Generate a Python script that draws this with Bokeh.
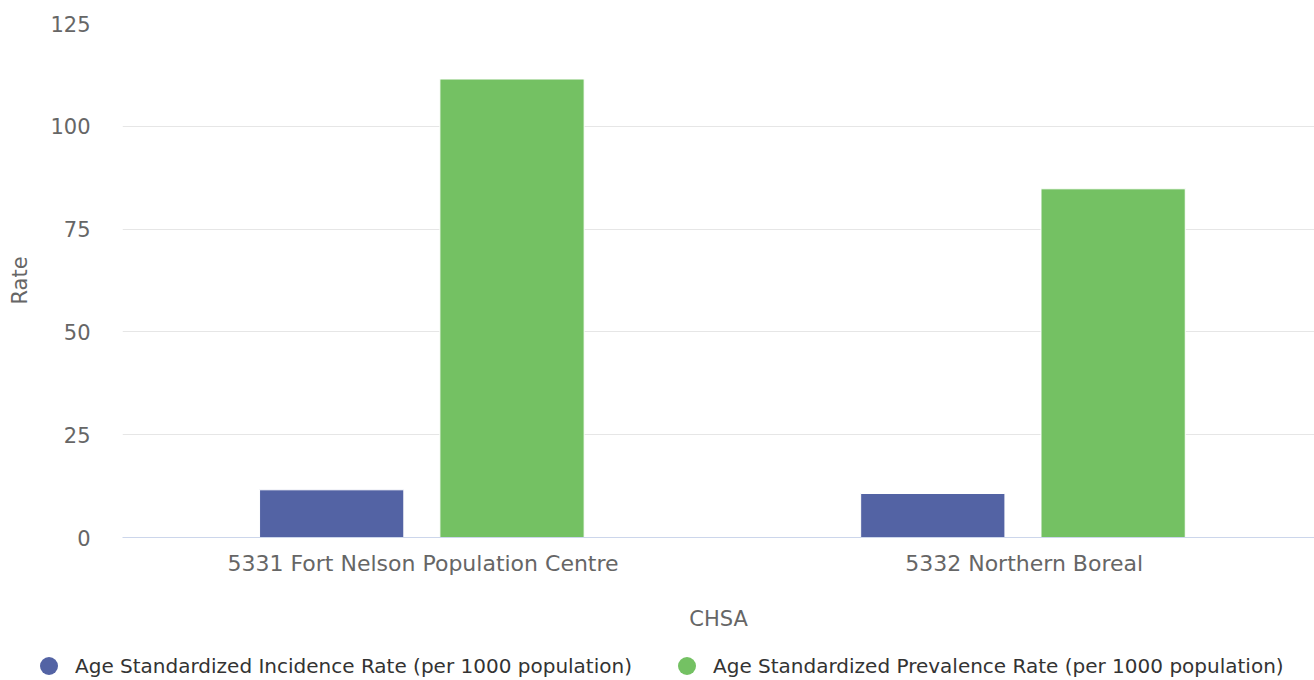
from bokeh.plotting import figure
from bokeh.layouts import column
from bokeh.models import ColumnDataSource, Range1d, SingleIntervalTicker, FixedTicker, Div
from bokeh.embed import file_html
from bokeh.resources import INLINE

categories = ["5331 Fort Nelson Population Centre", "5332 Northern Boreal"]
incidence = [11.6, 10.7]
prevalence = [111.5, 84.8]
series_names = ["Age Standardized Incidence Rate (per 1000 population)",
                "Age Standardized Prevalence Rate (per 1000 population)"]
colors = ["#5363a4", "#74c163"]

FONT = "DejaVu Sans"

# category slots: one unit per category, centred at i + 0.5
slot = [i + 0.5 for i in range(len(categories))]
src = ColumnDataSource(dict(
    x_inc=[s - 0.152 for s in slot], x_prev=[s + 0.148 for s in slot],
    inc=incidence, prev=prevalence))

# plot area continues slightly beyond the right edge of the picture
p = figure(x_range=Range1d(0, 1.983), y_range=Range1d(0, 125),
           width=1314, height=636, output_backend="svg", toolbar_location=None,
           min_border_left=122, min_border_right=0, min_border_top=23, min_border_bottom=99)
p.outline_line_color = None
p.background_fill_color = "white"

p.vbar(x="x_inc", top="inc", width=0.24, source=src,
       fill_color=colors[0], line_color="white", line_width=1)
p.vbar(x="x_prev", top="prev", width=0.24, source=src,
       fill_color=colors[1], line_color="white", line_width=1)

# axes
p.xgrid.grid_line_color = None
p.ygrid.grid_line_color = "#e6e6e6"
p.ygrid.grid_line_width = 1

p.yaxis.ticker = SingleIntervalTicker(interval=25)
p.yaxis.axis_line_color = None
p.yaxis.major_tick_line_color = None
p.yaxis.minor_tick_line_color = None
p.yaxis.major_tick_out = 0
p.yaxis.major_tick_in = 0
p.yaxis.major_label_standoff = 28
p.yaxis.major_label_text_font = FONT
p.yaxis.major_label_text_font_size = "21px"
p.yaxis.major_label_text_color = "#666666"
p.yaxis.axis_label = "Rate"
p.yaxis.axis_label_text_font = FONT
p.yaxis.axis_label_text_font_size = "21px"
p.yaxis.axis_label_text_font_style = "normal"
p.yaxis.axis_label_text_color = "#666666"
p.yaxis.axis_label_standoff = 15

p.xaxis.ticker = FixedTicker(ticks=slot, minor_ticks=[])
p.xaxis.major_label_overrides = {s: c for s, c in zip(slot, categories)}
p.xaxis.axis_line_color = "#ccd6eb"
p.xaxis.axis_line_width = 1
p.xaxis.major_tick_line_color = None
p.xaxis.minor_tick_line_color = None
p.xaxis.major_tick_out = 0
p.xaxis.major_tick_in = 0
p.xaxis.major_label_standoff = 13
p.xaxis.major_label_text_font = FONT
p.xaxis.major_label_text_font_size = "22px"
p.xaxis.major_label_text_color = "#666666"
p.xaxis.axis_label = "CHSA"
p.xaxis.axis_label_text_font = FONT
p.xaxis.axis_label_text_font_size = "21px"
p.xaxis.axis_label_text_font_style = "normal"
p.xaxis.axis_label_text_color = "#666666"
p.xaxis.axis_label_standoff = 28

# legend strip (HTML legend with real text)
item_left = [40, 678]  # circle left edges in px
parts = []
for name, col, left in zip(series_names, colors, item_left):
    parts.append(
        f'<span style="position:absolute;left:{left}px;top:21px;width:18px;height:18px;'
        f'border-radius:9px;background:{col};"></span>'
        f'<span style="position:absolute;left:{left + 35}px;top:18px;line-height:24px;'
        f'white-space:nowrap;">{name}</span>')
html = ('<div style="position:relative;width:1314px;height:44px;'
        f'font-family:\'{FONT}\';font-size:20px;color:#333333;">' + "".join(parts) + '</div>')
legend_div = Div(text=html, width=1314, height=44, margin=0)

open("out.html", "w").write(file_html(column(p, legend_div, spacing=0), INLINE))
